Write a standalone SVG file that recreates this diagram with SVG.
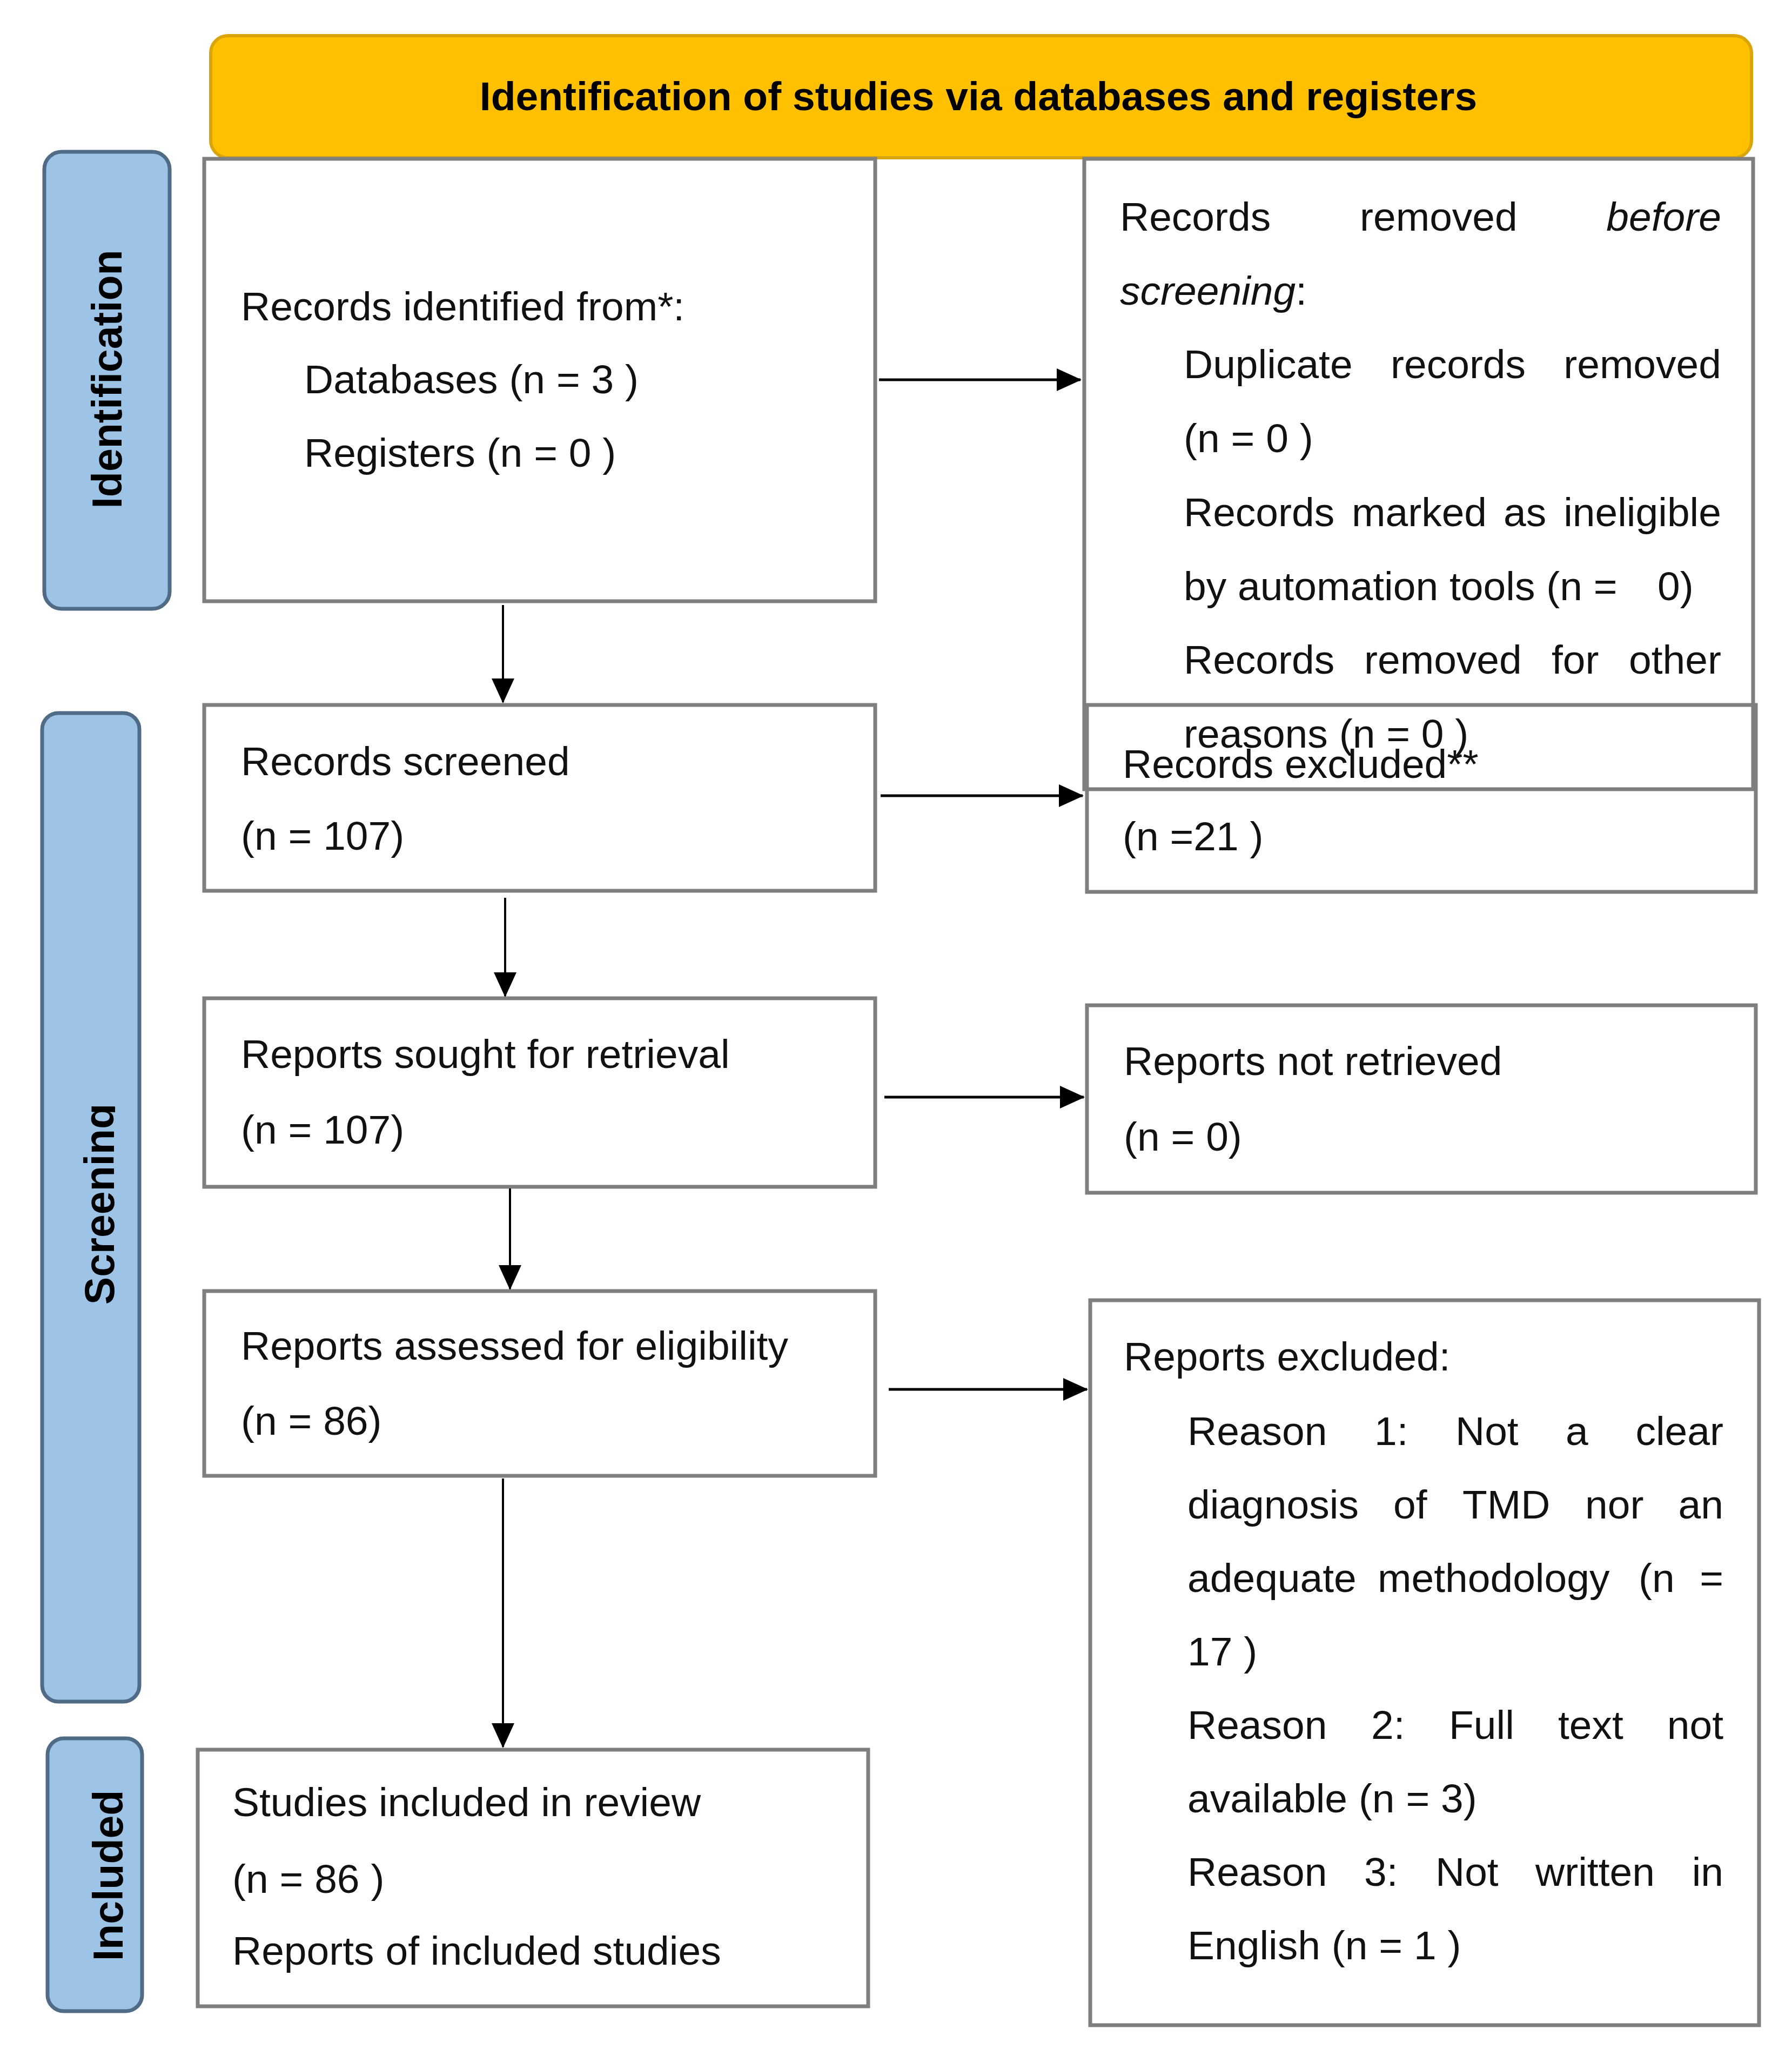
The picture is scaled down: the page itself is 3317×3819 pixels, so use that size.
<svg xmlns="http://www.w3.org/2000/svg" width="3317" height="3819" viewBox="0 0 3317 3819">
<defs>
<style>
.box{fill:#ffffff;stroke:#7f7f7f;stroke-width:7}
.nofill{fill:none;stroke:#7f7f7f;stroke-width:7}
.t{font-family:"Liberation Sans",Arial,sans-serif;font-size:75px;fill:#111111}
.e{text-anchor:end}
.i{font-style:italic}
.side{fill:#9DC3E6;stroke:#4F6B86;stroke-width:7}
.sl{font-family:"Liberation Sans",Arial,sans-serif;font-weight:bold;font-size:77px;text-anchor:middle;fill:#000000}
.hd{font-family:"Liberation Sans",Arial,sans-serif;font-weight:bold;font-size:75px;text-anchor:middle;fill:#000000}
.ch{stroke:#000000;stroke-width:5;fill:none}
.cv{stroke:#000000;stroke-width:4;fill:none}
</style>
<marker id="ah" markerUnits="userSpaceOnUse" markerWidth="46" markerHeight="42" refX="44" refY="21" orient="auto">
<path d="M0,0 L46,21 L0,42 z" fill="#000000"/>
</marker>
<clipPath id="scrClip" clipPathUnits="userSpaceOnUse"><rect x="60" y="1300" width="153" height="1900"/></clipPath>
</defs>
<rect width="3317" height="3819" fill="#ffffff"/>

<!-- Side labels -->
<g id="side-identification">
<rect class="side" x="82" y="281" width="232" height="846" rx="32"/>
<text class="sl" transform="translate(225,702) rotate(-90)">Identification</text>
</g>
<g id="side-screening">
<rect class="side" x="78" y="1320" width="180" height="1830" rx="30"/>
<g clip-path="url(#scrClip)">
<text class="sl" transform="translate(211,2229) rotate(-90)">Screening</text>
</g>
</g>
<g id="side-included">
<rect class="side" x="88" y="3218" width="175" height="505" rx="30"/>
<text class="sl" transform="translate(227,3472) rotate(-90)">Included</text>
</g>

<!-- Header -->
<g id="header">
<rect x="390" y="66" width="2852" height="226" rx="32" fill="#FFC000" stroke="#D9A50A" stroke-width="6"/>
<text class="hd" x="1811" y="204">Identification of studies via databases and registers</text>
</g>

<!-- Left column -->
<g id="records-identified">
<rect class="box" x="378" y="294" width="1242" height="819"/>
<text class="t" x="446" y="593">Records identified from*:</text>
<text class="t" x="563" y="728">Databases (n = 3 )</text>
<text class="t" x="563" y="864">Registers (n = 0 )</text>
</g>
<g id="records-screened">
<rect class="box" x="378" y="1305" width="1242" height="344"/>
<text class="t" x="446" y="1435">Records screened</text>
<text class="t" x="446" y="1573">(n = 107)</text>
</g>
<g id="reports-sought">
<rect class="box" x="378" y="1848" width="1242" height="349"/>
<text class="t" x="446" y="1977">Reports sought for retrieval</text>
<text class="t" x="446" y="2117">(n = 107)</text>
</g>
<g id="reports-assessed">
<rect class="box" x="378" y="2390" width="1242" height="342"/>
<text class="t" x="446" y="2517">Reports assessed for eligibility</text>
<text class="t" x="446" y="2656">(n = 86)</text>
</g>
<g id="studies-included">
<rect class="box" x="366" y="3239" width="1241" height="475"/>
<text class="t" x="430" y="3362">Studies included in review</text>
<text class="t" x="430" y="3504">(n = 86 )</text>
<text class="t" x="430" y="3637">Reports of included studies</text>
</g>

<!-- Right column -->
<g id="records-removed">
<rect class="box" x="2007" y="294" width="1238" height="1167"/>
<text class="t" x="2073" y="427">Records</text>
<text class="t" x="2517" y="427">removed</text>
<text class="t e i" x="3186" y="427">before</text>
<text class="t" x="2073" y="564"><tspan class="i">screening</tspan>:</text>
<text class="t" x="2191" y="700">Duplicate</text>
<text class="t" x="2574" y="700">records</text>
<text class="t e" x="3186" y="700">removed</text>
<text class="t" x="2191" y="837">(n = 0 )</text>
<text class="t" x="2191" y="974">Records</text>
<text class="t" x="2502" y="974">marked</text>
<text class="t" x="2783" y="974">as</text>
<text class="t e" x="3186" y="974">ineligible</text>
<text class="t" x="2191" y="1111">by automation tools (n =</text>
<text class="t" x="3068" y="1111">0)</text>
<text class="t" x="2191" y="1247">Records</text>
<text class="t" x="2525" y="1247">removed</text>
<text class="t" x="2872" y="1247">for</text>
<text class="t e" x="3186" y="1247">other</text>
<text class="t" x="2191" y="1384">reasons (n = 0 )</text>
</g>
<g id="records-excluded">
<rect class="nofill" x="2012" y="1305" width="1238" height="346"/>
<text class="t" x="2078" y="1440">Records excluded**</text>
<text class="t" x="2078" y="1574">(n =21 )</text>
</g>
<g id="reports-not-retrieved">
<rect class="box" x="2012" y="1861" width="1238" height="347"/>
<text class="t" x="2080" y="1990">Reports not retrieved</text>
<text class="t" x="2080" y="2130">(n = 0)</text>
</g>
<g id="reports-excluded">
<rect class="box" x="2018" y="2407" width="1238" height="1342"/>
<text class="t" x="2080" y="2537">Reports excluded:</text>
<text class="t" x="2198" y="2675">Reason</text>
<text class="t" x="2544" y="2675">1:</text>
<text class="t" x="2694" y="2675">Not</text>
<text class="t" x="2898" y="2675">a</text>
<text class="t e" x="3190" y="2675">clear</text>
<text class="t" x="2198" y="2811">diagnosis</text>
<text class="t" x="2579" y="2811">of</text>
<text class="t" x="2707" y="2811">TMD</text>
<text class="t" x="2934" y="2811">nor</text>
<text class="t e" x="3190" y="2811">an</text>
<text class="t" x="2198" y="2947">adequate</text>
<text class="t" x="2550" y="2947">methodology</text>
<text class="t" x="3033" y="2947">(n</text>
<text class="t e" x="3190" y="2947">=</text>
<text class="t" x="2198" y="3083">17 )</text>
<text class="t" x="2198" y="3219">Reason</text>
<text class="t" x="2538" y="3219">2:</text>
<text class="t" x="2682" y="3219">Full</text>
<text class="t" x="2884" y="3219">text</text>
<text class="t e" x="3190" y="3219">not</text>
<text class="t" x="2198" y="3355">available (n = 3)</text>
<text class="t" x="2198" y="3491">Reason</text>
<text class="t" x="2525" y="3491">3:</text>
<text class="t" x="2657" y="3491">Not</text>
<text class="t" x="2842" y="3491">written</text>
<text class="t e" x="3190" y="3491">in</text>
<text class="t" x="2198" y="3627">English (n = 1 )</text>
</g>

<!-- Connectors -->
<g id="connectors">
<line class="ch" x1="1627" y1="703" x2="2000" y2="703" marker-end="url(#ah)"/>
<line class="cv" x1="931" y1="1120" x2="931" y2="1300" marker-end="url(#ah)"/>
<line class="ch" x1="1630" y1="1473" x2="2004" y2="1473" marker-end="url(#ah)"/>
<line class="cv" x1="935" y1="1662" x2="935" y2="1844" marker-end="url(#ah)"/>
<line class="ch" x1="1637" y1="2031" x2="2006" y2="2031" marker-end="url(#ah)"/>
<line class="cv" x1="944" y1="2200" x2="944" y2="2386" marker-end="url(#ah)"/>
<line class="ch" x1="1645" y1="2572" x2="2012" y2="2572" marker-end="url(#ah)"/>
<line class="cv" x1="931" y1="2737" x2="931" y2="3234" marker-end="url(#ah)"/>
</g>
</svg>
